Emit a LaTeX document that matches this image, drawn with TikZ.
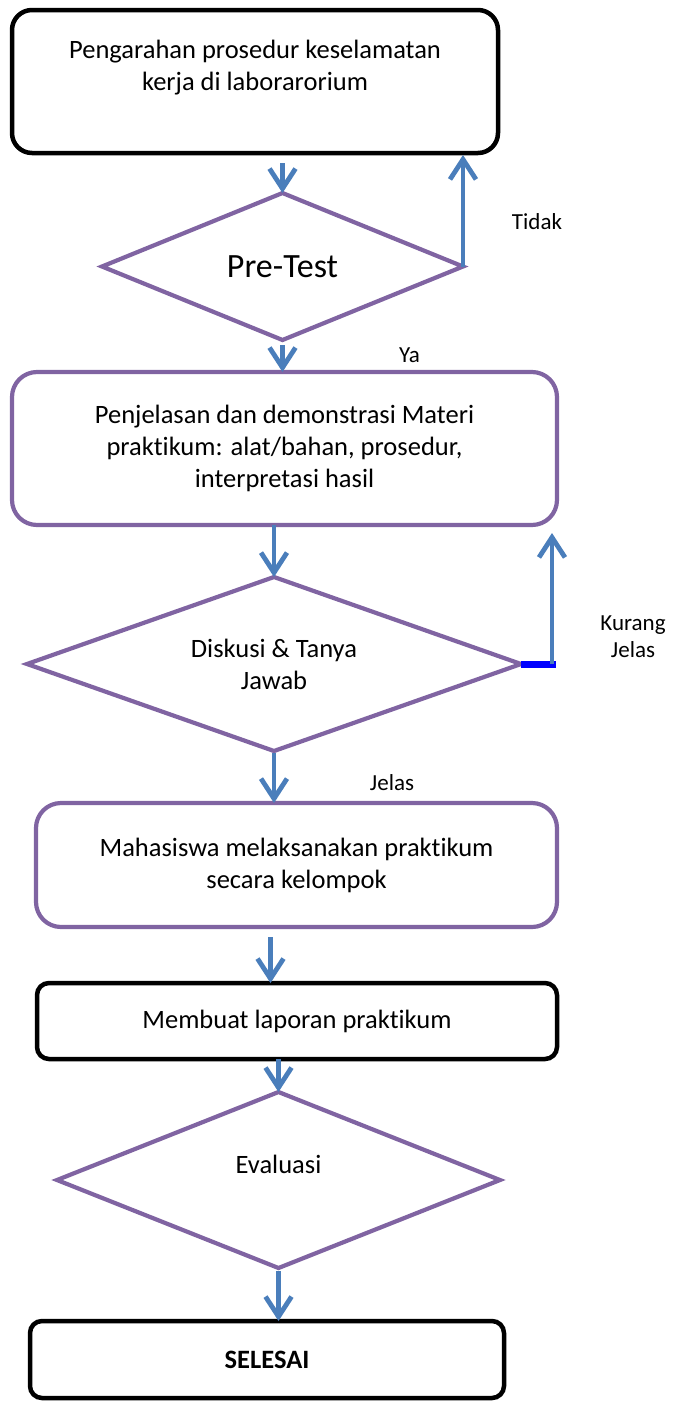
\documentclass[tikz,border=0pt]{standalone}
\usepackage{fontspec}
\setmainfont{Carlito}[RawFeature={-liga;-clig;-calt;-dlig}]
\usepackage{tikz}
\usetikzlibrary{arrows.meta,positioning,shapes.geometric}
\definecolor{Plum}{HTML}{8064A2}
\definecolor{Steel}{HTML}{4A7EBB}
\definecolor{Pure}{HTML}{0000FF}
\tikzset{
  blackbox/.style={draw=black, fill=white, rounded corners=#1, line width=4.5pt, align=center, outer sep=0pt, font=\fontsize{26.5}{32}\selectfont},
  blackbox/.default=12pt,
  purplebox/.style={draw=Plum, fill=white, rounded corners=25pt, line width=4.2pt, align=center, outer sep=0pt, font=\fontsize{26.5}{32}\selectfont},
  decision/.style={diamond, aspect=2.8, draw=Plum, fill=white, line width=4.2pt, inner sep=0pt, outer sep=0pt, align=center, font=\fontsize{26.5}{32}\selectfont},
  arrow/.style={-{Straight Barb[length=20pt,width=26pt]}, line width=4.8pt, draw=Steel},
  bluebar/.style={line width=7pt, draw=Pure},
  lbl/.style={align=center, font=\fontsize{23}{27}\selectfont}
}

\begin{document}
\begin{tikzpicture}[x=1pt, y=-1pt]
  \useasboundingbox (0,0) rectangle (673,1401);

  \node[blackbox=20pt, minimum width=486pt, minimum height=143pt] (start) at (255,81.5) {Pengarahan prosedur keselamatan\\kerja di laborarorium\\\mbox{}};
  \node[decision, below=40pt of start, xshift=27.5pt, minimum width=361pt, minimum height=147pt, font=\fontsize{34}{40}\selectfont] (pretest) {Pre-Test};
  \node[purplebox, below=32pt of pretest, xshift=2pt, minimum width=545pt, minimum height=153pt] (penjelasan) {Penjelasan dan demonstrasi Materi\\praktikum: alat/bahan, prosedur,\\interpretasi hasil};
  \node[decision, below=52pt of penjelasan, xshift=-10.5pt, minimum width=494pt, minimum height=174pt] (diskusi) {Diskusi \& Tanya\\Jawab};
  \node[purplebox, below=52pt of diskusi, xshift=22.5pt, minimum width=521pt, minimum height=124pt] (praktikum) {Mahasiswa melaksanakan praktikum\\secara kelompok};
  \node[blackbox, below=56pt of praktikum, xshift=0.5pt, minimum width=520pt, minimum height=76pt] (laporan) {Membuat laporan praktikum};
  \node[decision, below=33pt of laporan, xshift=-18.5pt, minimum width=443pt, minimum height=176pt] (evaluasi) {Evaluasi\\\mbox{}};
  \node[blackbox, below=53pt of evaluasi, xshift=-11.5pt, minimum width=474pt, minimum height=77pt] (selesai) {\bfseries SELESAI};

  % main flow
  \draw[arrow] ([yshift=-10pt]pretest.north |- start.south) -- (pretest.north);
  \draw[arrow] ([yshift=-5pt]pretest.south) -- (pretest.south |- penjelasan.north);
  \draw[arrow] (diskusi.north |- penjelasan.south) -- (diskusi.north);
  \draw[arrow] ([yshift=-2pt]diskusi.south) -- (diskusi.south |- praktikum.north);
  \draw[arrow] ([xshift=-26pt,yshift=-10pt]praktikum.south) -- ([xshift=-26pt]praktikum.south |- laporan.north);
  \draw[arrow] (evaluasi.north |- laporan.south) -- (evaluasi.north);
  \draw[arrow] ([yshift=-3pt]evaluasi.south) -- (evaluasi.south |- selesai.north);

  % loops back
  \draw[arrow] (pretest.east) -- ([yshift=-2pt]pretest.east |- start.south);
  \coordinate (kj) at ([xshift=35pt]diskusi.east);
  \draw[bluebar] (diskusi.east) -- (kj);
  \draw[arrow] ([xshift=-4pt]kj) -- ([xshift=-4pt,yshift=-8pt]kj |- penjelasan.south);

  \node[lbl] (tidak) at ([xshift=74pt,yshift=45pt]pretest.east) {Tidak};
  \node[lbl] (ya) at ([xshift=127pt,yshift=-15pt]pretest.south) {Ya};
  \node[lbl] (kurang) at ([xshift=112pt,yshift=27pt]diskusi.east) {Kurang\\Jelas};
  \node[lbl] (jelas) at ([xshift=118pt,yshift=-32pt]diskusi.south) {Jelas};
\end{tikzpicture}
\end{document}
